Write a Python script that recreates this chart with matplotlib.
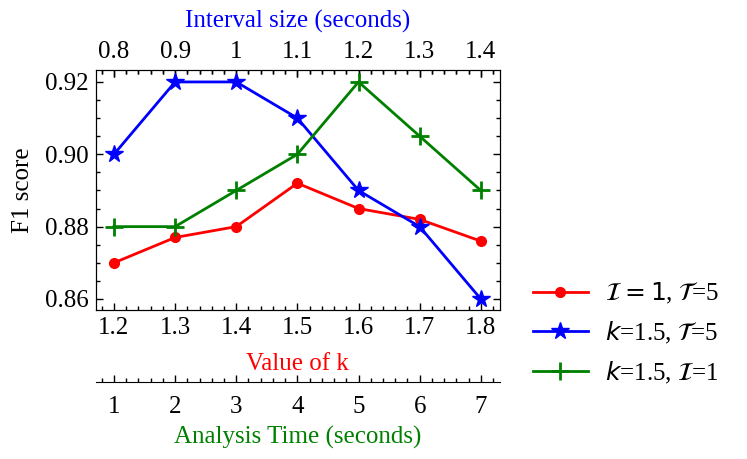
import numpy as np
import matplotlib
matplotlib.use("Agg")
import matplotlib.pyplot as plt
from matplotlib.ticker import MultipleLocator, FixedLocator

plt.rcParams['font.family'] = ['Liberation Serif', 'DejaVu Serif']
plt.rcParams['mathtext.fontset'] = 'dejavusans'
plt.rcParams['font.size'] = 18

# data
k_values = [1.2, 1.3, 1.4, 1.5, 1.6, 1.7, 1.8]
f1_vs_k = [0.870, 0.877, 0.880, 0.892, 0.885, 0.882, 0.876]

interval_sizes = [0.8, 0.9, 1.0, 1.1, 1.2, 1.3, 1.4]
interval_labels = ['0.8', '0.9', '1', '1.1', '1.2', '1.3', '1.4']
f1_vs_interval = [0.900, 0.920, 0.920, 0.910, 0.890, 0.880, 0.860]

analysis_times = [1, 2, 3, 4, 5, 6, 7]
f1_vs_time = [0.880, 0.880, 0.890, 0.900, 0.920, 0.905, 0.890]

fig = plt.figure(figsize=(7.47, 4.59), dpi=100)
ax = fig.add_axes([0.1285, 0.325, 0.5405, 0.5225])

klim = (1.1706, 1.831)
ax.set_xlim(*klim)
ax.set_ylim(0.857, 0.9233)

l1, = ax.plot(k_values, f1_vs_k, color='red', marker='o', markersize=7, lw=2,
              label=r'$\mathcal{I} = 1$, $\mathcal{T}$=5', zorder=3)

ax_top = ax.twiny()
ax_top.set_xlim(klim[0] - 0.4, klim[1] - 0.4)
l2, = ax_top.plot(interval_sizes, f1_vs_interval, color='blue', marker='*', markersize=13,
                  lw=2, label=r'$k$=1.5, $\mathcal{T}$=5', zorder=4)

ax_bot = ax.twiny()
ax_bot.set_xlim((klim[0] - 1.2) * 10 + 1, (klim[1] - 1.2) * 10 + 1)
l3, = ax_bot.plot(analysis_times, f1_vs_time, color='green', marker='+', markersize=13,
                  mew=2, lw=2, label=r'$k$=1.5, $\mathcal{I}$=1', zorder=2)

# main axis: k on bottom, y on left, ticks all round
ax.xaxis.set_major_locator(FixedLocator(k_values))
ax.xaxis.set_minor_locator(MultipleLocator(0.02))
ax.set_xticklabels(['1.2', '1.3', '1.4', '1.5', '1.6', '1.7', '1.8'])
ax.yaxis.set_minor_locator(MultipleLocator(0.005))
ax.set_yticks([0.86, 0.88, 0.90, 0.92])
ax.set_yticklabels(['0.86', '0.88', '0.90', '0.92'])
ax.tick_params(which='both', direction='in', top=True, right=True, width=1)
ax.tick_params(which='major', length=5, pad=5)
ax.tick_params(which='minor', length=3)
ax.set_xlabel('Value of k', color='red', labelpad=10)
ax.set_ylabel('F1 score', labelpad=8)

# top axis: interval size
ax_top.set_xticks(interval_sizes)
ax_top.set_xticklabels(interval_labels)
ax_top.xaxis.set_minor_locator(MultipleLocator(0.02))
ax_top.tick_params(which='both', direction='in', width=1)
ax_top.tick_params(which='major', length=5, pad=5)
ax_top.tick_params(which='minor', length=3)
ax_top.set_xlabel('Interval size (seconds)', color='blue', labelpad=10)

# second bottom axis: analysis time
ax_bot.xaxis.set_ticks_position('bottom')
ax_bot.xaxis.set_label_position('bottom')
ax_bot.spines['bottom'].set_position(('outward', 52))
for side in ['top', 'left', 'right']:
    ax_bot.spines[side].set_visible(False)
ax_bot.set_xticks(analysis_times)
ax_bot.xaxis.set_minor_locator(MultipleLocator(0.2))
ax_bot.tick_params(which='both', direction='in', width=1)
ax_bot.tick_params(which='major', length=5, pad=10)
ax_bot.tick_params(which='minor', length=3)
ax_bot.set_xlabel('Analysis Time (seconds)', color='green', labelpad=6)

fig.legend(handles=[l1, l2, l3], loc='center left', bbox_to_anchor=(0.683, 0.274),
           frameon=False, handlelength=2.2, handletextpad=0.7, labelspacing=0.55,
           fontsize=18)

fig.savefig('out.png', dpi=100)
